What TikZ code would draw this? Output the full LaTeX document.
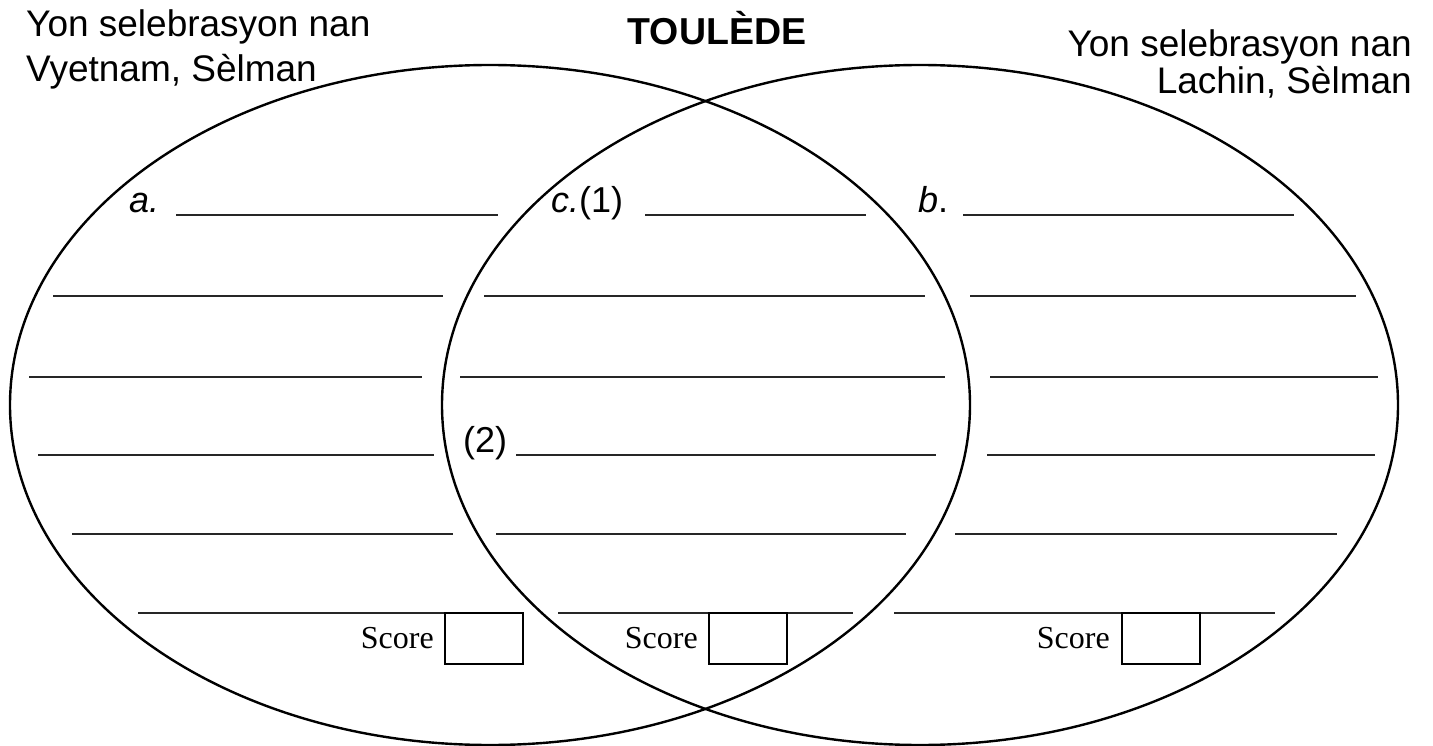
\documentclass[tikz,border=0pt]{standalone}
\usepackage{fontspec}
\newfontfamily\sansf{Liberation Sans}
\newfontfamily\seriff{Liberation Serif}
\begin{document}
\begin{tikzpicture}[x=1pt,y=-1pt,
  venn/.style={line width=2.4pt},
  blank/.style={line width=1.4pt,black!85},
  lbl/.style={inner sep=0pt,anchor=base west,font=\sansf\fontsize{36}{42}\selectfont},
  head/.style={inner sep=0pt,font=\sansf\fontsize{37}{44}\selectfont},
  scoretxt/.style={inner sep=0pt,anchor=base east,font=\seriff\fontsize{32}{38}\selectfont},
  scorebox/.style={draw,line width=1.3pt,minimum width=78pt,minimum height=51pt,inner sep=0pt}]
\useasboundingbox (0,0) rectangle (1433,746);
% ellipses
\draw[venn] (490,405) ellipse [x radius=480pt, y radius=340pt];
\draw[venn] (920,405) ellipse [x radius=478pt, y radius=340pt];
% headings
\node[head,anchor=base west] (hl1) at (26,37) {Yon selebrasyon nan};
\node[head,anchor=base west] (hl2) at (26,82) {Vyetnam, Sèlman};
\node[head,anchor=base east] (hr1) at (1412,57) {Yon selebrasyon nan};
\node[head,anchor=base east] (hr2) at (1412,94) {Lachin, Sèlman};
\node[inner sep=0pt,anchor=base,font=\sansf\bfseries\fontsize{37.5}{44}\selectfont] (title) at (717,45) {TOULÈDE};
% labels
\node[lbl] (la) at (129,213) {\itshape a.};
\node[lbl] (lc) at (551,213) {\itshape c.\upshape(1)};
\node[lbl] (lb) at (918,213) {\itshape b\upshape.};
\node[lbl] (l2) at (463,452) {(2)};
% left lines
\draw[blank] (176,215) -- (498,215);
\draw[blank] (53,296) -- (443,296);
\draw[blank] (29,377) -- (422,377);
\draw[blank] (38,455) -- (434,455);
\draw[blank] (72,534) -- (453,534);
\draw[blank] (138,613) -- (445,613);
% center lines
\draw[blank] (645,215) -- (866,215);
\draw[blank] (484,296) -- (925,296);
\draw[blank] (460,377) -- (945,377);
\draw[blank] (516,455) -- (936,455);
\draw[blank] (496,534) -- (906,534);
\draw[blank] (558,613) -- (853,613);
% right lines
\draw[blank] (963,215) -- (1294,215);
\draw[blank] (970,296) -- (1356,296);
\draw[blank] (990,377) -- (1378,377);
\draw[blank] (987,455) -- (1375,455);
\draw[blank] (955,534) -- (1337,534);
\draw[blank] (894,613) -- (1275,613);
% score boxes
\node[scorebox] (bxL) at (484,638.5) {};
\node[scorebox] (bxC) at (748,638.5) {};
\node[scorebox] (bxR) at (1161,638.5) {};
\node[scoretxt] (sL) at (434,648) {Score};
\node[scoretxt] (sC) at (698,648) {Score};
\node[scoretxt] (sR) at (1110,648) {Score};
\end{tikzpicture}
\end{document}
